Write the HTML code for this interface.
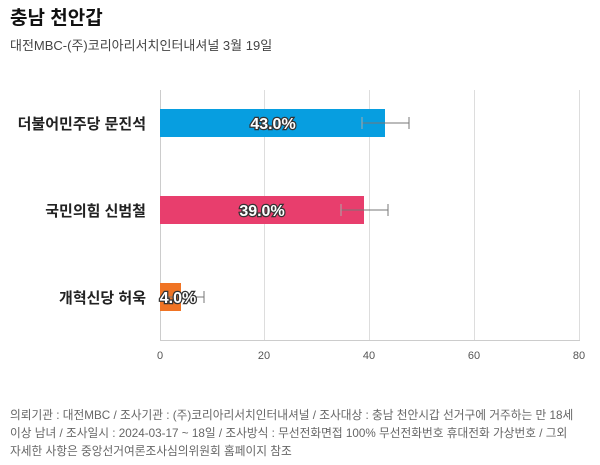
<!DOCTYPE html>
<html><head><meta charset="utf-8"><style>
body{margin:0;background:#fff;width:600px;height:460px;overflow:hidden;font-family:"Liberation Sans","Noto Sans CJK KR",sans-serif}
</style></head><body>
<svg width="600" height="460" xmlns="http://www.w3.org/2000/svg" font-family="Liberation Sans, Noto Sans CJK KR, sans-serif">
<text x="10" y="24" font-size="19" font-weight="bold" fill="#111">충남 천안갑</text>
<text x="10" y="50" font-size="13" fill="#444">대전MBC-(주)코리아리서치인터내셔널 3월 19일</text>
<g stroke="#ddd" stroke-width="1">
<line x1="264.5" y1="90" x2="264.5" y2="340"/>
<line x1="369.5" y1="90" x2="369.5" y2="340"/>
<line x1="474.5" y1="90" x2="474.5" y2="340"/>
<line x1="579.5" y1="90" x2="579.5" y2="340"/>
</g>
<line x1="160.5" y1="90" x2="160.5" y2="340" stroke="#ccc"/>
<line x1="160" y1="340.5" x2="580" y2="340.5" stroke="#ccc"/>
<g font-size="11" fill="#555" text-anchor="middle">
<text x="160" y="359">0</text><text x="264" y="359">20</text><text x="369" y="359">40</text><text x="474" y="359">60</text><text x="579" y="359">80</text>
</g>
<g font-size="15" fill="#222" text-anchor="end" font-weight="bold">
<text x="146" y="129">더불어민주당 문진석</text>
<text x="146" y="216">국민의힘 신범철</text>
<text x="146" y="303">개혁신당 허욱</text>
</g>
<rect x="160" y="109" width="225" height="28" fill="#079ee0"/>
<rect x="160" y="196" width="204" height="28" fill="#e83e6d"/>
<rect x="160" y="283" width="21" height="28" fill="#f07424"/>
<g stroke="#777" stroke-width="1">
<line x1="362" y1="123" x2="409" y2="123"/><line x1="362" y1="117" x2="362" y2="129" stroke="#aaa"/><line x1="409" y1="117" x2="409" y2="129"/>
<line x1="341" y1="210" x2="388" y2="210"/><line x1="341" y1="204" x2="341" y2="216" stroke="#aaa"/><line x1="388" y1="204" x2="388" y2="216"/>
<line x1="160" y1="297" x2="204" y2="297"/><line x1="204" y1="291" x2="204" y2="303"/>
</g>
<g font-size="16" font-weight="bold" fill="#fff" stroke="#333" stroke-width="2.5" paint-order="stroke" text-anchor="middle">
<text x="273" y="129">43.0%</text>
<text x="262" y="216">39.0%</text>
<text x="178" y="303">4.0%</text>
</g>
<g font-size="11.7" fill="#666">
<text x="10" y="419">의뢰기관 : 대전MBC / 조사기관 : (주)코리아리서치인터내셔널 / 조사대상 : 충남 천안시갑 선거구에 거주하는 만 18세</text>
<text x="10" y="437">이상 남녀 / 조사일시 : 2024-03-17 ~ 18일 / 조사방식 : 무선전화면접 100% 무선전화번호 휴대전화 가상번호 / 그외</text>
<text x="10" y="455">자세한 사항은 중앙선거여론조사심의위원회 홈페이지 참조</text>
</g>
</svg>
</body></html>
